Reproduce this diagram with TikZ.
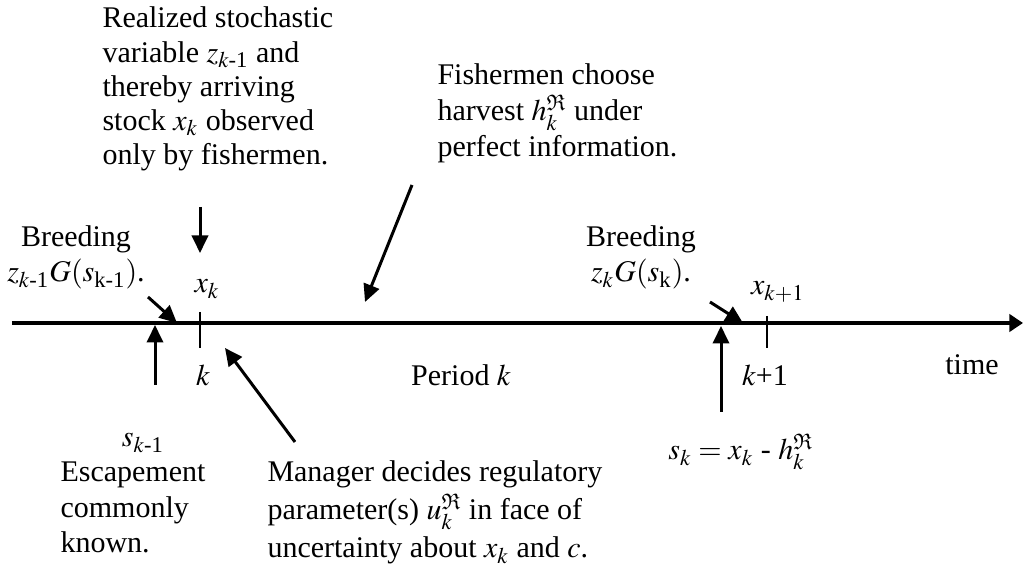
\documentclass[tikz,border=0pt]{standalone}
\usepackage{mathptmx}
\usepackage{amsmath,amssymb}
\usepackage{fontspec}
\setmainfont{Liberation Serif}
\usetikzlibrary{arrows.meta}
\newcommand{\Rsup}{\mathfrak{R}}
\tikzset{
  tl text/.style={font=\fontsize{12}{14.2}\selectfont, inner sep=0pt, anchor=base west, align=left},
  tl label/.style={font=\fontsize{12}{14.2}\selectfont, inner sep=0pt, anchor=base, align=center},
  tl arrow/.style={-{Triangle[length=7pt,width=6.5pt]}, line width=1.2pt},
  tl axis/.style={-{Triangle[length=5.5pt,width=7pt]}, line width=1.3pt},
  tl tick/.style={line width=0.7pt}
}
\begin{document}
\begin{tikzpicture}[x=0.4pt,y=-0.4pt]
\useasboundingbox (0,0) rectangle (1023,571);
\coordinate (ax0) at (12,323);
\coordinate (ax1) at (1023,323);
\draw[tl axis] (ax0)--(ax1);
\coordinate (t0a) at (200,312);
\coordinate (t0b) at (200,348);
\coordinate (t1a) at (767,316);
\coordinate (t1b) at (767,348);
\draw[tl tick] (t0a)--(t0b);
\draw[tl tick] (t1a)--(t1b);
\node[tl text, font=\fontsize{12}{13.7}\selectfont] (obs) at (102,165) {Realized stochastic\\variable $z_{k\text{-1}}$ and\\thereby arriving\\stock $x_k$ observed\\only by fishermen.};
\node[tl text, font=\fontsize{12}{14.4}\selectfont] (fish) at (437,157) {Fishermen choose\\harvest $h_k^{\Rsup}$ under\\perfect information.};
\node[tl label] (brd0) at (76,282) {Breeding\\$z_{k\text{-1}}G(s_{\text{k-1}})$.};
\node[tl label] (brd1) at (641,282) {Breeding\\$z_kG(s_{\text{k}})$.};
\node[tl label] (xk) at (207,293) {$x_k$};
\node[tl label] (xk1) at (778,295) {$x_{k+1}$};
\node[tl label] (k0) at (203,386) {$k$};
\node[tl label] (per) at (461,386) {Period $k$};
\node[tl label] (k1) at (765,386) {$k$+1};
\node[tl label] (time) at (972,375) {time};
\node[tl label] (sk0) at (143,447) {$s_{k\text{-1}}$};
\node[tl text] (esc) at (60,553) {Escapement\\commonly\\known.};
\node[tl text, font=\fontsize{12}{15.2}\selectfont] (man) at (267,558) {Manager decides regulatory\\parameter(s) $u_k^{\Rsup}$ in face of\\uncertainty about $x_k$ and $c$.};
\node[tl text] (sk1) at (668,460) {$s_k = x_k$ - $h_k^{\Rsup}$};
\coordinate (obsA) at (200,207);
\coordinate (obsB) at (200,253);
\coordinate (fishA) at (412,185);
\coordinate (fishB) at (365,302);
\coordinate (brd0A) at (148,297);
\coordinate (brd0B) at (177,323);
\coordinate (brd1A) at (710,302);
\coordinate (brd1B) at (743,323);
\coordinate (sk0A) at (155,385);
\coordinate (sk0B) at (155,325);
\coordinate (sk1A) at (721,412);
\coordinate (sk1B) at (721,326);
\coordinate (manA) at (295,442);
\coordinate (manB) at (225,348);
\draw[tl arrow] (obsA)--(obsB);
\draw[tl arrow] (fishA)--(fishB);
\draw[tl arrow] (brd0A)--(brd0B);
\draw[tl arrow] (brd1A)--(brd1B);
\draw[tl arrow] (sk0A)--(sk0B);
\draw[tl arrow] (sk1A)--(sk1B);
\draw[tl arrow] (manA)--(manB);
\end{tikzpicture}
\end{document}
